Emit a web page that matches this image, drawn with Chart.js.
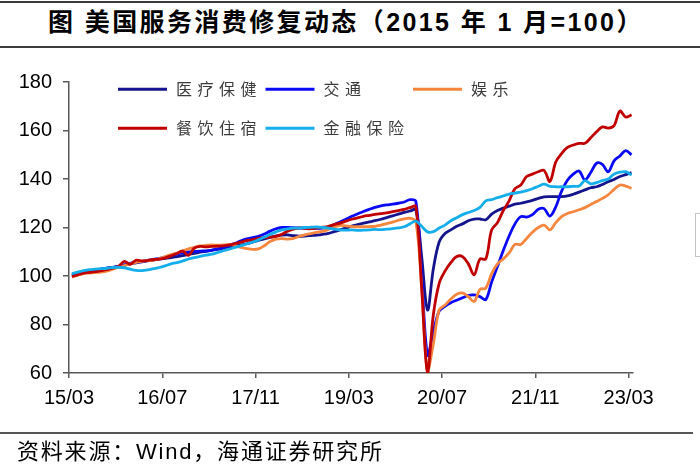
<!DOCTYPE html>
<html lang="zh">
<head>
<meta charset="UTF-8">
<title>美国服务消费修复动态</title>
<style>
  * { box-sizing: border-box; margin: 0; padding: 0; }
  body { width: 700px; height: 467px; background: #fff; position: relative; overflow: hidden; }
  #chart { position: absolute; left: 0; top: 0; }
  .rule { position: absolute; left: 0; height: 2px; background: #3a3a3a; }
  #title {
    position: absolute; left: 48px; top: 6px; white-space: nowrap;
    font-family: "Liberation Sans", "Noto Sans CJK SC", sans-serif;
    font-weight: bold; font-size: 25px; line-height: 32px; letter-spacing: 2.4px; color: #000;
  }
  #source {
    position: absolute; left: 17px; top: 438px; white-space: nowrap;
    font-family: "Liberation Sans", "Noto Sans CJK SC", sans-serif;
    font-size: 22px; line-height: 28px; letter-spacing: 1.8px; color: #000;
  }
  #bracket {
    position: absolute; left: 695px; top: 213px; width: 8px; height: 44px;
    border: 1.5px solid #c4c4c4; border-right: none;
  }
</style>
</head>
<body>
<div class="rule" style="top:1px; width:700px;"></div>
<div id="title">图 美国服务消费修复动态（2015 年 1 月=100）</div>
<div class="rule" style="top:46px; width:700px; height:1.5px;"></div>
<canvas id="chart" width="700" height="467"></canvas>
<div class="rule" style="top:432px; width:693px; height:1.5px; background:#555;"></div>
<div id="source">资料来源：Wind，海通证券研究所</div>
<div id="bracket"></div>

<script src="https://cdn.jsdelivr.net/npm/chart.js@4/dist/chart.umd.min.js"></script>
<script>
// monthly, 2015/03 .. 2023/03 (97 months)
const tickPos    = [0, 16, 32, 48, 64, 80, 96];
const tickLabels = ['15/03', '16/07', '17/11', '19/03', '20/07', '21/11', '23/03'];

const seriesNames = ['医疗保健', '交通', '娱乐', '餐饮住宿', '金融保险'];

const health = [
  100.3,100.9,101.5,102,102.4,102.8,103.2,103.6,104,104.5,
  105,105.4,105.8,106.2,106.6,107,107.3,107.6,108,108.4,
  108.9,109.3,109.8,110.2,110.6,111,111.5,112,112.4,112.8,
  113.3,114,114.7,115.3,115.9,116.5,116.9,117,116.6,116.4,
  116.5,116.7,116.9,117.2,117.6,118.3,119,119.8,120.6,121.2,
  121.8,122.3,122.8,123.4,124.1,124.8,125.5,126.2,126.8,127.3,
  108,86,103,114,117.5,119,120.5,121.5,122.8,123.5,
  123.5,123.2,125.5,127,128,128.8,129.6,130,130.6,131.2,
  132,132.6,132.7,132.7,132.7,133,133.7,134.6,135.5,136.4,
  136.8,137.7,138.9,139.8,141,141.8,142.6
];

const transport = [
  100.5,101,101.5,102,102.5,102.8,103.2,103.5,104,104.6,
  105.2,105.6,106,106.4,106.9,107.3,107.8,108.4,109,109.5,
  109.9,110.1,110.3,110.4,110.7,111.2,111.8,112.6,113.5,114.5,
  115.3,115.8,116.4,117.3,118.5,119.5,120,120,119.9,119.8,
  119.7,119.6,119.6,119.7,120.2,121.2,122.3,123.4,124.6,125.6,
  126.6,127.5,128.3,128.9,129.3,129.6,130,130.5,131.5,130.8,
  100,67.4,77,85.5,87.5,89,90,91,92,92.2,
  91.5,90.3,97.5,104,110.5,116.5,121.5,124.5,124.3,125.3,
  127.5,127.8,124.7,128.5,135,139.5,142,143.3,139.6,142.7,
  146.5,146,143,147.5,149.5,151.7,150
];

const recreation = [
  99.5,100.3,101,101.2,101.4,101.6,102,102.8,103.6,104.3,
  105,105.6,106,106.3,106.5,107.2,108,108.8,109.5,110.3,
  111.2,111.8,112.4,112.6,112.8,112.7,112.8,112.9,112.5,111.8,
  111.3,111,111.2,112.5,114.2,115.2,115.4,115.2,115.5,116.4,
  117,117.5,118,118.4,119.2,120.2,120.9,120.7,120.4,120.3,
  120.3,120.4,120.5,121,121.6,122.2,123,123.6,123.8,122.5,
  95,60.5,72,86,88,90.5,92.5,93,91.5,89.5,
  94.5,95,101,105,107,109.5,113,113,115.5,118,
  120,121,119,122,124.5,125.8,126.5,127.3,128.2,129.5,
  130.7,132,133.5,135.7,137.5,137.1,136.2
];

const foodHotel = [
  99.8,100.5,101.2,101.5,101.8,102.2,102.6,103.2,104,106,
  104.8,106.5,106.2,106.4,106.8,107,107.5,108.3,109.3,110.3,
  108.5,111.5,112.2,112,112.2,112.3,112.4,112.8,113.4,114,
  114.6,115,115.5,115.8,116,116.3,117.2,118.5,119.3,119.8,
  119.6,119.5,119.8,120.1,120.5,121.2,121.8,122.6,123.4,124,
  124.6,125,125.4,125.7,126,126.5,127,127.5,128.2,128.7,
  95,60.2,84,97,102,105.5,108,108,105,100.5,
  107,107,119,122,127,131,136,137.5,141,142,
  143,143.5,139,147,150.5,153,154,154.7,154.7,157,
  159.5,161.5,161,162,168,165.5,166.5
];

const finance = [
  101,101.6,102.2,102.6,102.8,103,103.2,103.5,103.6,103.4,
  102.8,102.3,102.2,102.5,103,103.5,104.2,105,105.5,106.2,
  107,107.6,108.1,108.6,109,109.7,110.4,111.1,111.8,112.5,
  113.2,114,114.9,116,117.2,118.2,119,119.4,119.7,119.8,
  120,120.1,120.2,120,119.7,119.3,119,118.9,119,118.8,
  118.9,119,119.2,119.1,119.3,119.5,119.8,120.3,121.5,122.6,
  120.5,118.2,118.3,119.8,121,122.8,124,125.3,126.2,127,
  128.3,131,131.5,132.3,133,133.8,134.2,134.6,135.2,136,
  137,137.9,137,136.8,136.8,136.8,137,137.1,139.3,138,
  138.5,139.3,140,142,142.8,143,141.6
];

const seriesValues = [health, transport, recreation, foodHotel, finance];
const seriesColors = ['#14148c', '#0a0af5', '#f5863e', '#c00000', '#14aeea'];

// points sit in the middle of each month
const toPoints = arr => arr.map((v, i) => ({ x: i + 0.5, y: v }));

const innerLegend = {
  id: 'innerLegend',
  afterDraw(chart) {
    const ctx = chart.ctx;
    const area = chart.chartArea;
    ctx.save();
    ctx.font = '16px "Noto Sans CJK SC", sans-serif';
    ctx.textBaseline = 'middle';
    ctx.fillStyle = '#3c3c3c';
    chart.data.datasets.forEach((ds, i) => {
      const col = i % 3, row = Math.floor(i / 3);
      const x = area.left + 49 + col * 147.5;
      const y = area.top + 7.3 + row * 39;
      ctx.strokeStyle = ds.borderColor;
      ctx.lineWidth = 3;
      ctx.beginPath();
      ctx.moveTo(x, y);
      ctx.lineTo(x + 49, y);
      ctx.stroke();
      [...ds.label].forEach((ch, k) => ctx.fillText(ch, x + 58 + k * 21.5, y));
    });
    ctx.restore();
  }
};

const axisFont = { family: '"Liberation Sans", Arial, sans-serif', size: 20 };

new Chart(document.getElementById('chart'), {
  type: 'line',
  data: {
    datasets: seriesNames.map((name, i) => ({
      label: name,
      data: toPoints(seriesValues[i]),
      borderColor: seriesColors[i],
      backgroundColor: seriesColors[i],
      borderWidth: 2.8,
      pointRadius: 0,
      tension: 0.35,
      fill: false,
      order: seriesNames.length - i
    }))
  },
  options: {
    responsive: false,
    animation: false,
    events: [],
    layout: { padding: { left: 0, top: 82, right: 67, bottom: 54 } },
    plugins: { legend: { display: false }, tooltip: { enabled: false } },
    scales: {
      x: {
        type: 'linear',
        min: 0,
        max: 96.75,
        afterFit: s => { s.height = 40; },
        afterBuildTicks: s => { s.ticks = tickPos.map(v => ({ value: v })); },
        ticks: {
          autoSkip: false,
          maxRotation: 0,
          padding: 8,
          color: '#000',
          font: axisFont,
          callback: (v, idx) => tickLabels[idx]
        },
        grid: { drawOnChartArea: false, drawTicks: true, tickLength: 5, color: '#595959', lineWidth: 1.5 },
        border: { color: '#595959', width: 1.5 }
      },
      y: {
        min: 60,
        max: 180,
        afterFit: s => { s.width = 69; },
        ticks: { stepSize: 20, padding: 11, color: '#000', font: axisFont },
        grid: { drawOnChartArea: false, drawTicks: true, tickLength: 6, color: '#595959', lineWidth: 1.5 },
        border: { color: '#595959', width: 1.5 }
      }
    }
  },
  plugins: [innerLegend]
});
</script>
</body>
</html>
